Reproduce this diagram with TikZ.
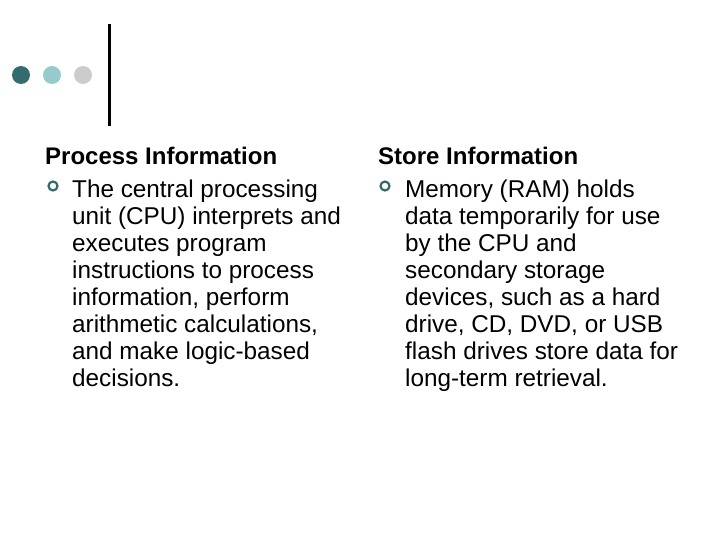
\documentclass[tikz,border=0pt]{standalone}
\usepackage{fontspec}
\setmainfont{Liberation Sans}
\usetikzlibrary{positioning}
\definecolor{xdark}{HTML}{336B6E}
\definecolor{xlight}{HTML}{96CACB}
\definecolor{xgrey}{HTML}{CCCCCC}
\tikzset{
	dot/.style={circle, inner sep=0pt, minimum size=18pt},
	heading/.style={anchor=base west, inner sep=0pt, font=\fontsize{24}{27}\selectfont\bfseries},
	body/.style={anchor=base west, inner sep=0pt, align=left, font=\fontsize{24.3}{27}\selectfont},
	bullet/.style={circle, draw=xdark, line width=2.2pt, inner sep=0pt, minimum size=9pt},
}
\begin{document}
\begin{tikzpicture}[x=1pt, y=-1pt]
	\useasboundingbox (0,0) rectangle (728,546);
% Title decoration
	\node[dot, fill=xdark] (D1) at (21,75) {};
	\node[dot, fill=xlight] (D2) at (52,75) {};
	\node[dot, fill=xgrey] (D3) at (83,75) {};
	\draw[line width=3pt] (109,24) -- (109,126);

% Process information (base of last line)
	\node[heading] (H1) at (45,164) {Process Information};
	\node[bullet] (B1) at (53,186) {};
	\node[body] (T1) at (72,386) {The central processing\\unit (CPU) interprets and\\executes program\\instructions to process\\information, perform\\arithmetic calculations,\\and make logic-based\\decisions.};

% Store information
	\node[heading] (H2) at (378,164) {Store Information};
	\node[bullet] (B2) at (385,186) {};
	\node[body] (T2) at (405,386) {Memory (RAM) holds\\data temporarily for use\\by the CPU and\\secondary storage\\devices, such as a hard\\drive, CD, DVD, or USB\\flash drives store data for\\long-term retrieval.};
\end{tikzpicture}
\end{document}
